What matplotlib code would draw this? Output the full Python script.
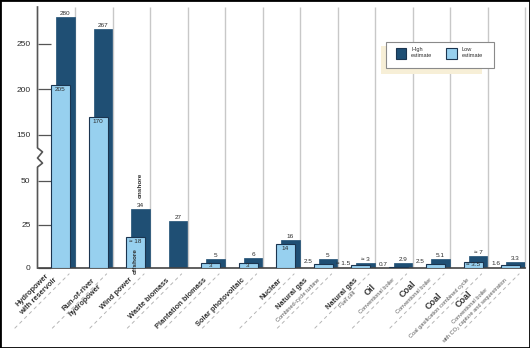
import numpy as np
import matplotlib.pyplot as plt
from matplotlib.patches import Rectangle
from matplotlib.font_manager import FontProperties

plt.rcParams['font.family'] = ['Liberation Sans', 'DejaVu Sans']

# energy payback ratio, low and high estimates per option
main_labels = ['Hydropower\nwith reservoir', 'Run-of-river\nhydropower', 'Wind power',
               'Waste biomass', 'Plantation biomass', 'Solar photovoltaic', 'Nuclear',
               'Natural gas', 'Natural gas', 'Oil', 'Coal', 'Coal', 'Coal']
sub_labels = ['', '', '', '', '', '', '',
              'Combined-cycle turbine', 'Fuel cell', 'Conventional boiler',
              'Conventional boiler', 'Coal gasification combined cycle',
              'Conventional boiler\nwith CO\u2082 capture and sequestration']
high = [280, 267, 34, 27, 5, 6, 16, 5, 3, 2.9, 5.1, 7, 3.3]
low = [205, 170, 18, np.nan, 3, 3, 14, 2.5, 1.5, 0.7, 2.5, 3.5, 1.6]
high_text = ['280', '267', '34', '27', '5', '6', '16', '5', '\u2248 3', '2.9', '5.1', '\u2248 7', '3.3']
low_text = ['205', '170', '\u2248 18', '', '3', '3', '14', '2.5', '\u2248 1.5', '0.7', '2.5', '\u2248 3.5', '1.6']
low_inside = [True, True, True, False, True, True, True, False, False, False, False, True, False]
yticks = [0, 25, 50, 150, 200, 250]

DARK = '#1f4f74'
LIGHT = '#97d0ef'
EDGE = '#1b3550'
GRID = '#c8c8c8'
TXT = '#2b2b2b'

W, H = 530, 348
AX_L, AX_R, AX_B, AX_T = 37.5, 525, 268, 7


# broken scale: linear up to 50, squeezed 50-100, half slope above 100
def fwd(v):
    v = np.asarray(v, float)
    return np.where(v <= 50, v, np.where(v <= 100, 50 + (v - 50) * 0.006, 50.3 + (v - 100) * 0.523))


def inv(t):
    t = np.asarray(t, float)
    return np.where(t <= 50, t, np.where(t <= 50.3, 50 + (t - 50) / 0.006, 100 + (t - 50.3) / 0.523))


fig = plt.figure(figsize=(W / 100, H / 100), dpi=100)
ax = fig.add_axes([AX_L / W, 1 - AX_B / H, (AX_R - AX_L) / W, (AX_B - AX_T) / H])
ax.set_yscale('function', functions=(fwd, inv))
ytop = float(inv(150))
ax.set_ylim(0, ytop)
ax.set_xlim(0, len(main_labels))

high = np.array(high, float)
low = np.array(low, float)
idx = np.arange(len(main_labels))
hi_x = idx + 0.745
lo_x = idx + 0.615
has_low = ~np.isnan(low)

ax.vlines(np.arange(1, len(main_labels) + 1), 0, ytop, colors=GRID, lw=1, zorder=1, clip_on=False)
ax.bar(hi_x, high, width=0.5, color=DARK, edgecolor=DARK, lw=0.5, zorder=2)
ax.bar(lo_x[has_low], low[has_low], width=0.51, color=LIGHT, edgecolor=EDGE, lw=0.8, zorder=3)

# value labels
for i in idx:
    ax.annotate(high_text[i], (hi_x[i], high[i]), xytext=(0, 1), textcoords='offset pixels',
                ha='center', va='bottom', fontsize=4.6, color=TXT, zorder=5,
                bbox=dict(boxstyle='square,pad=0.1', fc='white', ec='none'))
    if not has_low[i]:
        continue
    if low_inside[i]:
        if low[i] < 10:
            ax.annotate(low_text[i], (lo_x[i], low[i] / 2), xytext=(0, 0), textcoords='offset pixels',
                        ha='center', va='center', fontsize=4.6, color=TXT, zorder=5)
        else:
            ax.annotate(low_text[i], (lo_x[i], low[i]), xytext=(0, -2), textcoords='offset pixels',
                        ha='center', va='top', fontsize=4.6, color=TXT, zorder=5)
    else:
        ax.annotate(low_text[i], (lo_x[i] - 0.255, low[i]), xytext=(-1, 2), textcoords='offset pixels',
                    ha='right', va='center', fontsize=4.6, color=TXT, zorder=5)

# onshore / offshore notes on the wind bars
ax.annotate('onshore', (hi_x[2], high[2]), xytext=(0, 11), textcoords='offset pixels',
            rotation=90, ha='center', va='bottom', fontsize=4.6, fontweight='bold', color=TXT)
ax.annotate('offshore', (lo_x[2], low[2]), xytext=(0, -11), textcoords='offset pixels',
            rotation=90, ha='center', va='top', fontsize=4.6, fontweight='bold', color=TXT, zorder=5)

# axes styling
for s in ['top', 'right', 'left']:
    ax.spines[s].set_visible(False)
ax.spines['bottom'].set_color('#444444')
ax.spines['bottom'].set_linewidth(1.2)
ax.set_xticks([])
ax.set_yticks(yticks)
ax.set_yticklabels([str(v) for v in yticks])
ax.tick_params(axis='y', direction='in', length=9, width=0.9, color='#555555',
               pad=5, labelsize=6, labelcolor=TXT)
ax.set_facecolor('white')

# y axis line with the zigzag break
px = 1 / (AX_R - AX_L)
zx = [0, 0, 5 * px, 0, 5 * px, 0, 0]
zy = [0, 114.7, 119.1, 124.7, 131.4, 135.8, ytop]
ax.plot(zx, zy, color='#555555', lw=1.2, transform=ax.get_yaxis_transform(), clip_on=False, zorder=6)

# dashed leaders under the category labels
for b in range(1, len(main_labels) + 1):
    ax.annotate('', (b, 0), xytext=(-66, -66), textcoords='offset pixels',
                arrowprops=dict(arrowstyle='-', color='#b5b5b5', lw=0.7, linestyle=(0, (3, 4)),
                                shrinkA=6, shrinkB=6, patchA=None),
                annotation_clip=False)

# rotated category labels, lines centred within each block
renderer = fig.canvas.get_renderer()
c45 = np.cos(np.pi / 4)
for i in idx:
    lines = []
    big = main_labels[i] in ('Oil', 'Coal')
    for s in main_labels[i].split('\n'):
        lines.append((s, 6.5 if big else 5.4, 'bold', '#333333'))
    if sub_labels[i]:
        for s in sub_labels[i].split('\n'):
            lines.append((s, 4.1, 'normal', '#555555'))
    widths = []
    for s, fs, fw, col in lines:
        fp = FontProperties(family=['Liberation Sans', 'DejaVu Sans'], size=fs, weight=fw)
        widths.append(renderer.get_text_width_height_descent(s, fp, ismath=False)[0])
    pos = [0.0]
    for k in range(1, len(lines)):
        pos.append(pos[-1] + 0.6 * (lines[k - 1][1] + lines[k][1]) * 100 / 72)
    kl = int(np.argmax(widths))
    L = widths[kl]
    for k, (s, fs, fw, col) in enumerate(lines):
        dp = pos[k] - pos[kl]
        ox = -L / 2 * c45 + dp * c45
        oy = -11 - L / 2 * c45 - dp * c45
        ax.annotate(s, (idx[i] + 0.5, 0), xytext=(ox, oy), textcoords='offset pixels',
                    rotation=45, rotation_mode='anchor', ha='center', va='center',
                    fontsize=fs, fontweight=fw, color=col, annotation_clip=False)


# legend drawn in figure pixels
def fig_rect(x0, y0, x1, y1, **kw):
    fig.add_artist(Rectangle((x0 / W, 1 - y1 / H), (x1 - x0) / W, (y1 - y0) / H,
                             transform=fig.transFigure, **kw))


fig_rect(381, 46, 482, 74, fc='#f7efd7', ec='none', zorder=8)
fig_rect(386, 42, 494, 68, fc='white', ec='#8a8a8a', lw=0.8, zorder=9)
fig_rect(396, 47.5, 406.5, 59, fc=DARK, ec=EDGE, lw=0.8, zorder=10)
fig_rect(446, 47.5, 457, 59, fc=LIGHT, ec=EDGE, lw=0.8, zorder=10)
fig.text(411 / W, 1 - 47 / H, 'High\nestimate', ha='left', va='top', fontsize=4.1,
         color=TXT, linespacing=1.3, zorder=10)
fig.text(462 / W, 1 - 47 / H, 'Low\nestimate', ha='left', va='top', fontsize=4.1,
         color=TXT, linespacing=1.3, zorder=10)

# outer frame
fig.add_artist(Rectangle((0, 0), 1, 1, transform=fig.transFigure, fill=False,
                         ec='black', lw=2, zorder=20))

fig.savefig('out.png', dpi=100)
